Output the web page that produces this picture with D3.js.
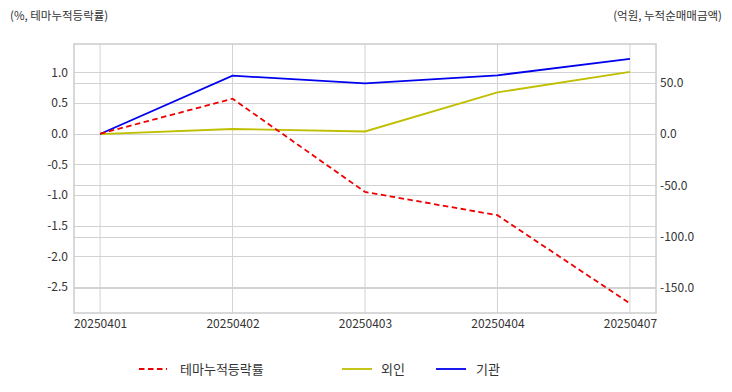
<!DOCTYPE html>
<html><head><meta charset="utf-8">
<script src="https://cdn.jsdelivr.net/npm/d3@7"></script>
<style>
body{margin:0;background:#fff;}
text{font-family:"Noto Sans CJK KR","Noto Sans",sans-serif;fill:#333;}
</style></head>
<body><svg id="c" width="732" height="392"></svg>
<script>
const dates = ["20250401","20250402","20250403","20250404","20250407"];
const themeRate = [0, 0.57, -0.95, -1.33, -2.77];
const foreign = [0, 4.9, 2.5, 40.6, 60.5];
const institution = [0, 56.8, 49.4, 57.2, 73.3];
const leftTicks = [1.0, 0.5, 0.0, -0.5, -1.0, -1.5, -2.0, -2.5];
const rightTicks = [50, 0, -50, -100, -150];
const legendNames = ["테마누적등락률", "외인", "기관"];

const svg = d3.select("#c");
const L = 74, R = 656, T = 44, B = 313;
const x = d3.scalePoint().domain(dates).range([L, R]).padding(0.197);
const yL = d3.scaleLinear().domain([-2.925, 1.463]).range([B, T]);
const yR = d3.scaleLinear().domain([-174.3, 87.7]).range([B, T]);

const grid = svg.append("g").attr("stroke", "#d3d3d3").attr("stroke-width", 1);
dates.forEach(d => grid.append("line").attr("x1", x(d)).attr("x2", x(d)).attr("y1", T).attr("y2", B));
leftTicks.forEach(v => grid.append("line").attr("x1", L).attr("x2", R).attr("y1", Math.round(yL(v)) + 0.5).attr("y2", Math.round(yL(v)) + 0.5));
rightTicks.forEach(v => grid.append("line").attr("x1", L).attr("x2", R).attr("y1", Math.round(yR(v)) + 0.5).attr("y2", Math.round(yR(v)) + 0.5));
svg.append("rect").attr("x", L).attr("y", T).attr("width", R - L).attr("height", B - T)
  .attr("fill", "none").attr("stroke", "#cccccc").attr("stroke-width", 1.5);

const axL = d3.axisLeft(yL).tickValues(leftTicks).tickFormat(d3.format(".1f")).tickSize(0).tickPadding(6);
const gl = svg.append("g").attr("transform", `translate(${L},0)`).call(axL);
const axR = d3.axisRight(yR).tickValues(rightTicks).tickFormat(d3.format(".1f")).tickSize(0).tickPadding(4);
const gr = svg.append("g").attr("transform", `translate(${R},0)`).call(axR);
const axB = d3.axisBottom(x).tickSize(0).tickPadding(6);
const gb = svg.append("g").attr("transform", `translate(0,${B})`).call(axB);
[gl, gr, gb].forEach(g => {
  g.select(".domain").remove();
  g.selectAll("text").attr("font-size", 12).attr("fill", "#333")
    .style("font-family", '"Noto Sans CJK KR","Noto Sans",sans-serif');
});
gl.selectAll("text").text(d => d3.format(".1f")(d).replace("−", "-"));
gr.selectAll("text").text(d => d3.format(".1f")(d).replace("−", "-"));

const lineL = d3.line().x((d, i) => x(dates[i])).y(d => yL(d));
const lineR = d3.line().x((d, i) => x(dates[i])).y(d => yR(d));
svg.append("path").datum(foreign).attr("d", lineR).attr("fill", "none").attr("stroke", "#bfbf00").attr("stroke-width", 1.8);
svg.append("path").datum(institution).attr("d", lineR).attr("fill", "none").attr("stroke", "#0000ee").attr("stroke-width", 1.8);
svg.append("path").datum(themeRate).attr("d", lineL).attr("fill", "none").attr("stroke", "#ee0000").attr("stroke-width", 1.8).attr("stroke-dasharray", "5.5,3.5");

svg.append("text").attr("x", 10).attr("y", 20).attr("font-size", 11.5).text("(%, 테마누적등락률)");
svg.append("text").attr("x", 722).attr("y", 20).attr("text-anchor", "end").attr("font-size", 11.5).text("(억원, 누적순매매금액)");

const leg = [
  {x1: 139, x2: 167, tx: 180, c: "#ee0000", dash: "5.5,3.5"},
  {x1: 342, x2: 372, tx: 381, c: "#bfbf00", dash: null},
  {x1: 436, x2: 466, tx: 476, c: "#0000ee", dash: null}
];
leg.forEach((l, i) => {
  svg.append("line").attr("x1", l.x1).attr("x2", l.x2).attr("y1", 369).attr("y2", 369)
    .attr("stroke", l.c).attr("stroke-width", 1.8).attr("stroke-dasharray", l.dash);
  svg.append("text").attr("x", l.tx).attr("y", 374).attr("font-size", 13).text(legendNames[i]);
});
</script></body></html>
